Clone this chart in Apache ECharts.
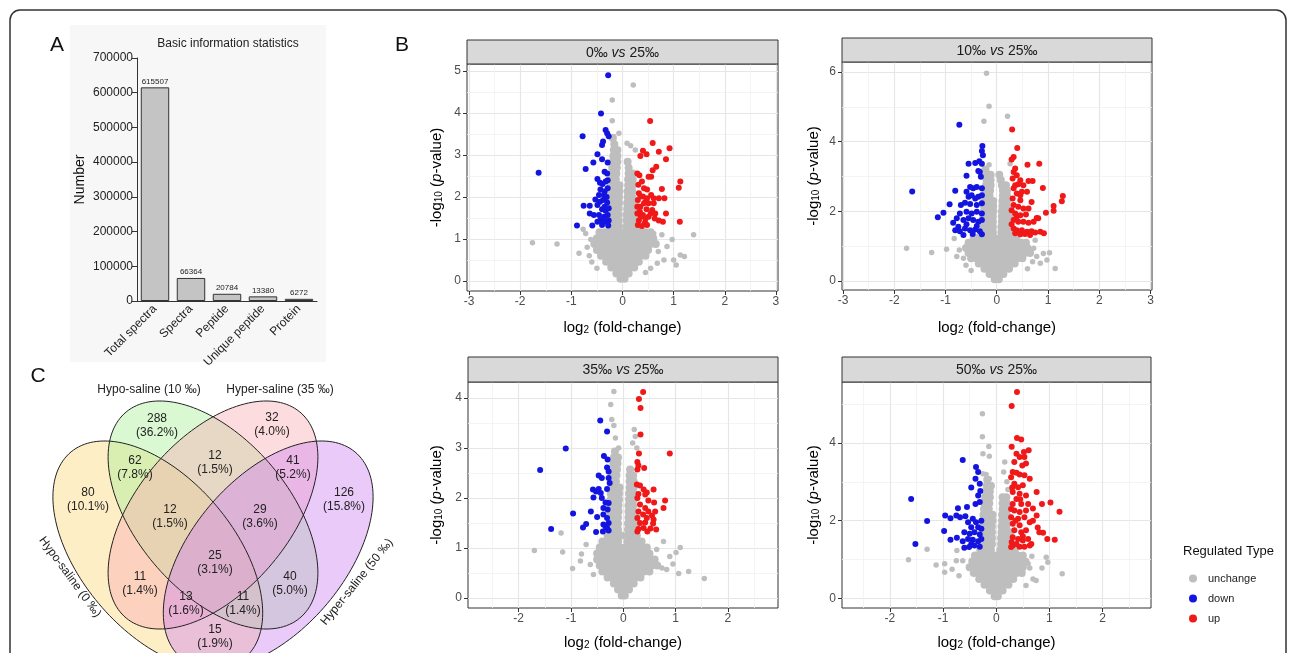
<!DOCTYPE html>
<html><head><meta charset="utf-8">
<script src="https://cdn.jsdelivr.net/npm/echarts@6/dist/echarts.min.js"></script>
<style>html,body{margin:0;background:#fff}#c{width:1290px;height:653px}</style>
</head><body><div id="c"></div>
<script>
// ---------- DATA ----------
const barCategories = ['Total spectra','Spectra','Peptide','Unique peptide','Protein'];
const barValues = [615507, 66364, 20784, 13380, 6272];
const barTicks = [0,100000,200000,300000,400000,500000,600000,700000];

const panelTitles = [['0‰','25‰'],['10‰','25‰'],['35‰','25‰'],['50‰','25‰']];
const legendNames = ['unchange','down','up'];

const xTicks = [[-3,-2,-1,0,1,2,3],[-3,-2,-1,0,1,2,3],[-2,-1,0,1,2],[-2,-1,0,1,2]];
const xMinorTicks = [[-2.5,-1.5,-0.5,0.5,1.5,2.5],[-2.5,-1.5,-0.5,0.5,1.5,2.5],[-2.5,-1.5,-0.5,0.5,1.5,2.5],[-2.5,-1.5,-0.5,0.5,1.5,2.5]];
const yTicks = [[0,1,2,3,4,5],[0,2,4,6],[0,1,2,3,4],[0,2,4]];
const yMinorTicks = [[0.5,1.5,2.5,3.5,4.5],[1,3,5],[0.5,1.5,2.5,3.5],[1,3,5]];

// panel 1: 0‰ vs 25‰
const down1 = [[-0.28,4.9],[-0.42,3.99],[-0.78,3.45],[-0.33,3.6],[-0.30,3.52],[-0.27,3.45],[-0.38,3.32],[-0.40,3.24],[-0.49,3.02],[-0.57,2.82],[-0.72,2.67],[-0.40,2.9],[-0.29,2.82],[-1.64,2.58],[-0.35,2.6],[-0.30,2.56],[-0.49,2.43],[-0.44,2.34],[-0.39,2.31],[-0.33,2.37],[-0.29,2.4],[-0.43,2.18],[-0.35,2.13],[-0.29,2.21],[-0.46,2.05],[-0.31,2.0],[-0.38,1.93],[-0.30,1.87],[-0.49,1.81],[-0.76,1.79],[-0.64,1.79],[-0.40,1.71],[-0.33,1.67],[-0.64,1.61],[-0.56,1.57],[-0.46,1.57],[-0.36,1.53],[-0.29,1.57],[-0.43,1.45],[-0.49,1.41],[-0.34,1.41],[-0.27,1.44],[-0.59,1.32],[-0.89,1.32],[-0.40,1.33],[-0.28,1.32],[-0.35,1.77],[-0.44,1.89],[-0.53,1.94],[-0.27,1.73],[-0.36,2.05]];
const up1 = [[0.54,3.81],[0.59,3.29],[0.40,3.10],[0.47,3.02],[0.35,2.98],[0.71,3.08],[0.92,3.16],[0.66,2.72],[0.59,2.64],[0.85,2.90],[0.29,2.56],[0.33,2.52],[0.51,2.48],[0.56,2.48],[0.38,2.37],[1.13,2.37],[1.10,2.22],[0.31,2.29],[0.42,2.21],[0.48,2.18],[0.77,2.19],[0.32,2.09],[0.40,2.01],[0.56,2.05],[0.71,1.97],[0.82,1.97],[0.30,1.93],[0.45,1.89],[0.51,1.85],[0.61,1.85],[0.35,1.77],[0.47,1.71],[0.58,1.69],[0.64,1.61],[0.85,1.61],[0.29,1.61],[0.40,1.57],[0.51,1.53],[0.63,1.49],[0.32,1.44],[0.44,1.39],[0.71,1.44],[0.79,1.41],[1.12,1.41],[0.30,1.33],[0.48,1.33],[0.38,1.31],[0.35,2.01],[0.48,1.97],[0.42,1.85],[0.34,1.65],[0.55,1.61],[0.45,1.49],[0.36,1.53],[0.61,1.97],[0.29,1.77]];
const grey1 = [[0.21,4.67],[-0.20,4.31],[-0.20,3.82],[-0.07,3.52],[-0.17,3.44],[0.09,3.28],[0.25,3.12],[0.16,3.22],[-1.76,0.91],[-1.28,0.88],[1.39,1.10],[0.97,0.99],[1.13,0.62],[1.21,0.58],[1.05,0.38],[1.0,0.5],[-0.85,0.66],[-0.69,0.80],[-0.62,0.99],[-0.72,1.13],[-0.77,1.23],[0.61,1.13],[0.77,1.10],[0.87,0.82],[0.68,0.42],[0.81,0.5],[0.64,0.86],[-0.6,0.45],[-0.5,0.3],[0.55,0.3],[0.45,0.2],[0.7,0.7],[-0.65,0.6]];
// dense grey cloud rows: [y, x1, x2, ...]
const core1 = [[0.05,-0.04,0.04],[0.18,-0.12,-0.04,0.04,0.12],[0.32,-0.22,-0.13,-0.04,0.05,0.14,0.23],[0.46,-0.32,-0.23,-0.14,-0.05,0.05,0.14,0.23,0.32],[0.6,-0.42,-0.32,-0.22,-0.12,-0.03,0.06,0.15,0.25,0.35,0.45],[0.74,-0.5,-0.4,-0.3,-0.2,-0.1,0,0.1,0.2,0.3,0.4,0.5],[0.88,-0.55,-0.45,-0.35,-0.25,-0.15,-0.05,0.05,0.15,0.25,0.35,0.45,0.55,0.65],[1.02,-0.5,-0.4,-0.3,-0.2,-0.1,0,0.1,0.2,0.3,0.4,0.5,0.6],[1.16,-0.45,-0.35,-0.25,-0.15,-0.05,0.05,0.15,0.25,0.35,0.45,0.55],[1.3,-0.25,-0.16,-0.07,0.08,0.17,0.25,0.35],[1.44,-0.26,-0.17,-0.08,0.08,0.17,0.25],[1.58,-0.26,-0.17,-0.08,0.08,0.17,0.25],[1.72,-0.26,-0.17,-0.08,0.09,0.18,0.25],[1.86,-0.25,-0.16,-0.07,0.09,0.18,0.25],[2.0,-0.25,-0.16,-0.07,0.1,0.19],[2.14,-0.24,-0.15,-0.06,0.1,0.19],[2.28,-0.23,-0.14,-0.06,0.11,0.2],[2.42,-0.22,-0.13,0.11,0.2],[2.56,-0.21,-0.12,0.12,0.2],[2.7,-0.2,-0.11,0.12],[2.84,-0.19,-0.1,0.1],[2.98,-0.18,-0.1],[3.12,-0.17,-0.1],[3.26,-0.16],[3.4,-0.19]];

// panel 2: 10‰ vs 25‰
const down2 = [[-0.73,4.49],[-0.28,3.88],[-0.29,3.73],[-0.27,3.61],[-0.55,3.37],[-0.42,3.39],[-0.34,3.44],[-0.29,3.37],[-0.36,3.16],[-0.33,3.13],[-0.59,3.02],[-0.31,2.99],[-1.65,2.57],[-0.81,2.59],[-0.52,2.70],[-0.46,2.66],[-0.39,2.70],[-0.29,2.66],[-0.92,2.20],[-1.04,1.96],[-1.15,1.83],[-0.85,1.67],[-0.59,2.56],[-0.55,2.42],[-0.49,2.46],[-0.42,2.37],[-0.36,2.42],[-0.29,2.46],[-0.70,2.18],[-0.62,2.25],[-0.52,2.21],[-0.39,2.18],[-0.29,2.23],[-0.72,1.94],[-0.59,1.99],[-0.49,1.94],[-0.39,1.99],[-0.29,1.94],[-0.78,1.80],[-0.65,1.75],[-0.55,1.80],[-0.46,1.75],[-0.36,1.70],[-0.29,1.75],[-0.81,1.46],[-0.72,1.43],[-0.62,1.51],[-0.52,1.46],[-0.42,1.48],[-0.33,1.43],[-0.65,1.32],[-0.47,1.35],[-0.29,1.34],[-0.59,1.63],[-0.39,1.58],[-0.75,1.56]];
const up2 = [[0.30,4.35],[0.40,3.82],[0.33,3.56],[0.29,3.49],[0.36,3.23],[0.33,3.13],[0.60,3.34],[0.83,3.37],[0.39,3.04],[0.31,2.94],[0.46,2.89],[0.62,2.87],[0.70,2.87],[0.42,2.78],[0.52,2.75],[0.90,2.67],[0.33,2.66],[0.39,2.51],[0.49,2.56],[0.59,2.56],[0.31,2.37],[0.46,2.32],[0.68,2.27],[1.29,2.44],[1.27,2.29],[1.11,2.15],[1.11,2.02],[0.96,1.96],[0.33,2.18],[0.42,2.13],[0.52,2.08],[0.62,2.08],[0.36,1.94],[0.46,1.89],[0.57,1.91],[0.78,1.81],[0.81,1.80],[0.33,1.75],[0.42,1.70],[0.52,1.70],[0.62,1.67],[0.72,1.70],[0.33,1.51],[0.39,1.46],[0.49,1.46],[0.59,1.41],[0.68,1.43],[0.75,1.39],[0.92,1.37],[0.36,1.37],[0.46,1.34],[0.55,1.35],[0.65,1.32],[0.85,1.41],[0.29,1.63],[0.39,1.84],[0.29,2.03],[0.46,2.46],[0.36,2.75]];
const grey2 = [[-0.20,5.97],[-0.15,5.02],[-0.25,4.59],[0.21,4.73],[-0.15,3.34],[0.26,3.37],[-0.25,3.18],[-1.76,0.94],[-1.27,0.82],[-0.98,0.91],[-0.83,1.22],[-0.78,0.70],[-0.65,0.65],[-0.73,0.89],[1.03,0.81],[1.14,0.36],[0.98,0.60],[0.85,0.51],[0.78,0.70],[0.91,0.79],[0.72,0.94],[0.75,1.17],[-0.6,0.45],[0.6,0.35],[-0.5,0.3],[0.7,0.55]];
const core2 = [[0.05,-0.04,0.04],[0.2,-0.14,-0.05,0.04,0.13],[0.35,-0.24,-0.15,-0.05,0.05,0.15,0.24],[0.5,-0.35,-0.25,-0.15,-0.05,0.05,0.15,0.25,0.35],[0.65,-0.5,-0.4,-0.3,-0.2,-0.1,0,0.1,0.2,0.3,0.4,0.5],[0.8,-0.55,-0.45,-0.35,-0.25,-0.15,-0.05,0.05,0.15,0.25,0.35,0.45,0.55,0.65],[0.95,-0.6,-0.5,-0.4,-0.3,-0.2,-0.1,0,0.1,0.2,0.3,0.4,0.5,0.6],[1.1,-0.55,-0.45,-0.35,-0.25,-0.15,-0.05,0.07,0.17,0.27,0.37,0.47,0.57],[1.25,-0.45,-0.35,-0.25,-0.15,-0.06,0.08,0.18,0.28,0.38],[1.4,-0.26,-0.17,-0.08,0.09,0.18,0.26],[1.55,-0.26,-0.17,-0.08,0.09,0.18,0.26],[1.7,-0.26,-0.17,-0.08,0.1,0.19,0.26],[1.85,-0.26,-0.17,-0.08,0.1,0.19,0.26],[2.0,-0.25,-0.16,-0.07,0.1,0.19],[2.15,-0.25,-0.16,-0.07,0.11,0.2],[2.3,-0.24,-0.15,-0.07,0.11,0.2],[2.45,-0.23,-0.14,0.12,0.2],[2.6,-0.22,-0.13,0.12,0.2],[2.75,-0.21,-0.12,0.1,0.18],[2.9,-0.2,-0.12,0.08],[3.05,-0.2,-0.12,0.05],[3.2,-0.22]];

// panel 3: 35‰ vs 25‰
const down3 = [[-0.44,3.55],[-0.31,3.33],[-1.10,2.99],[-0.37,2.84],[-0.30,2.77],[-0.31,2.61],[-0.28,2.53],[-1.59,2.56],[-0.47,2.45],[-0.41,2.40],[-0.28,2.40],[-0.26,2.30],[-0.58,2.17],[-0.52,2.13],[-0.47,2.18],[-0.43,2.10],[-0.31,2.18],[-0.57,2.01],[-0.41,2.00],[-0.34,1.91],[-0.28,1.90],[-0.38,1.80],[-0.30,1.77],[-0.96,1.69],[-0.62,1.73],[-0.50,1.62],[-0.38,1.67],[-0.31,1.60],[-0.28,1.50],[-0.71,1.48],[-0.77,1.41],[-1.38,1.38],[-0.38,1.47],[-0.31,1.40],[-0.52,1.32],[-0.39,1.33],[-0.28,1.35],[-0.34,1.43]];
const up3 = [[0.38,4.12],[0.30,3.98],[0.33,3.80],[0.33,3.27],[0.30,2.89],[0.89,2.89],[0.27,2.72],[0.29,2.65],[0.40,2.60],[0.27,2.57],[0.26,2.27],[0.32,2.25],[0.39,2.17],[0.45,2.11],[0.58,2.17],[0.29,2.08],[0.42,2.07],[0.27,2.00],[0.48,1.95],[0.80,1.95],[0.59,1.91],[0.32,1.87],[0.42,1.80],[0.77,1.80],[0.29,1.73],[0.48,1.73],[0.61,1.73],[0.38,1.67],[0.55,1.65],[0.27,1.60],[0.45,1.60],[0.58,1.57],[0.32,1.50],[0.42,1.51],[0.57,1.49],[0.29,1.38],[0.39,1.40],[0.52,1.39],[0.63,1.37],[0.27,1.33],[0.46,1.33]];
const grey3 = [[-0.18,4.13],[-0.24,3.87],[-0.22,3.57],[-0.18,3.45],[0.21,3.37],[0.23,3.23],[0.26,3.0],[-0.09,3.0],[-1.70,0.95],[-1.19,1.30],[-1.16,0.92],[-0.97,0.59],[-0.82,0.74],[-0.80,0.88],[-0.71,1.07],[-0.63,0.67],[-0.57,0.47],[1.55,0.39],[1.25,0.53],[1.06,0.49],[1.09,1.01],[1.01,0.91],[0.89,0.83],[0.83,0.57],[0.95,0.68],[0.74,0.60],[0.64,0.97],[0.77,1.13],[0.58,0.77],[-0.15,3.2],[0.18,3.1]];
const core3 = [[0.05,-0.03,0.03],[0.17,-0.1,-0.03,0.04,0.11],[0.29,-0.18,-0.1,-0.02,0.06,0.14,0.2],[0.41,-0.3,-0.21,-0.12,-0.03,0.06,0.15,0.24,0.33],[0.53,-0.4,-0.3,-0.2,-0.1,0,0.1,0.2,0.3,0.4,0.5],[0.65,-0.45,-0.35,-0.25,-0.15,-0.05,0.05,0.15,0.25,0.35,0.45,0.55,0.65],[0.77,-0.5,-0.4,-0.3,-0.2,-0.1,0,0.1,0.2,0.3,0.4,0.5,0.6],[0.89,-0.5,-0.4,-0.3,-0.2,-0.1,0,0.1,0.2,0.3,0.4,0.5],[1.01,-0.45,-0.35,-0.25,-0.15,-0.05,0.05,0.15,0.25,0.35,0.45],[1.13,-0.4,-0.3,-0.2,-0.1,0.08,0.17,0.26,0.35],[1.25,-0.3,-0.21,-0.12,-0.04,0.08,0.17,0.26],[1.37,-0.26,-0.18,-0.1,0.09,0.18,0.25],[1.49,-0.26,-0.18,-0.1,0.09,0.18,0.25],[1.61,-0.26,-0.18,-0.1,0.1,0.19,0.25],[1.73,-0.25,-0.17,-0.09,0.1,0.19],[1.85,-0.25,-0.17,-0.09,0.1,0.19],[1.97,-0.24,-0.16,-0.08,0.11,0.2],[2.09,-0.24,-0.16,-0.08,0.11,0.2],[2.21,-0.23,-0.15,-0.07,0.12,0.2],[2.33,-0.22,-0.14,0.12,0.2],[2.45,-0.21,-0.13,0.12,0.19],[2.57,-0.2,-0.12,0.13],[2.69,-0.19,-0.11],[2.81,-0.18,-0.1],[2.93,-0.16]];

// panel 4: 50‰ vs 25‰
const down4 = [[-1.60,2.56],[-1.30,1.99],[-1.52,1.40],[-0.63,3.56],[-0.38,3.38],[-0.34,3.25],[-0.39,3.08],[-0.47,2.85],[-0.31,2.95],[-0.30,2.76],[-0.34,2.65],[-0.72,2.32],[-0.55,2.35],[-0.39,2.43],[-0.31,2.48],[-0.96,2.13],[-0.86,2.06],[-0.68,2.09],[-0.58,2.11],[-0.75,2.13],[-0.53,1.96],[-0.44,2.05],[-0.38,1.96],[-0.28,2.00],[-0.47,1.83],[-0.34,1.83],[-0.28,1.79],[-0.98,1.73],[-0.60,1.70],[-0.50,1.66],[-0.41,1.70],[-0.31,1.64],[-0.86,1.51],[-0.74,1.56],[-0.63,1.47],[-0.53,1.53],[-0.44,1.51],[-0.34,1.47],[-0.28,1.53],[-0.60,1.30],[-0.51,1.32],[-0.41,1.36],[-0.31,1.33],[-0.47,1.40]];
const up4 = [[0.39,5.31],[0.29,4.95],[0.39,4.13],[0.47,4.09],[0.29,3.90],[0.38,3.72],[0.52,3.77],[0.61,3.81],[0.44,3.64],[0.53,3.64],[0.34,3.51],[0.49,3.42],[0.56,3.47],[0.31,3.25],[0.38,3.23],[0.44,3.19],[0.53,3.17],[0.63,3.08],[0.28,3.12],[0.34,2.95],[0.41,2.86],[0.50,2.91],[0.31,2.74],[0.44,2.69],[0.56,2.65],[0.76,2.74],[0.38,2.56],[0.86,2.43],[1.02,2.47],[1.19,2.23],[0.31,2.43],[0.47,2.43],[0.60,2.43],[0.34,2.26],[0.44,2.22],[0.56,2.26],[0.69,2.31],[0.28,2.09],[0.41,2.05],[0.53,2.09],[0.76,2.13],[0.31,1.92],[0.44,1.88],[0.63,1.96],[0.69,2.00],[0.78,1.82],[0.81,1.70],[0.88,1.69],[0.34,1.75],[0.47,1.70],[0.56,1.75],[0.96,1.53],[1.10,1.51],[0.31,1.57],[0.41,1.53],[0.50,1.49],[0.60,1.53],[0.66,1.40],[0.31,1.36],[0.44,1.33],[0.63,1.36],[0.38,1.40],[0.28,1.32],[0.53,1.33],[0.28,2.3],[0.36,2.0],[0.5,1.6],[0.29,1.45],[0.45,2.55],[0.3,2.85]];
const grey4 = [[-0.26,4.75],[-0.26,4.16],[-0.14,3.91],[-0.13,3.66],[-0.25,3.72],[0.16,3.51],[0.14,3.25],[-0.19,3.19],[-0.13,3.08],[-0.25,3.21],[-1.65,0.99],[-1.30,1.26],[-1.13,0.86],[-0.97,0.67],[-0.97,0.89],[-0.83,0.75],[-0.75,0.97],[-0.74,1.23],[-0.63,0.97],[-0.70,0.58],[1.24,0.63],[0.94,1.06],[0.97,0.93],[0.86,0.78],[0.67,1.08],[0.56,0.33],[0.69,0.50],[0.75,0.46],[0.63,0.78],[0.60,0.89],[0.2,3.0],[0.22,2.8]];
const core4 = [[0.05,-0.03,0.03],[0.2,-0.12,-0.04,0.04,0.12],[0.35,-0.22,-0.13,-0.04,0.05,0.14,0.23],[0.5,-0.32,-0.23,-0.14,-0.05,0.05,0.14,0.23,0.32],[0.65,-0.42,-0.32,-0.22,-0.12,-0.02,0.08,0.18,0.28,0.38,0.48],[0.8,-0.5,-0.4,-0.3,-0.2,-0.1,0,0.1,0.2,0.3,0.4,0.5],[0.95,-0.45,-0.35,-0.25,-0.15,-0.05,0.05,0.15,0.25,0.35,0.45,0.55],[1.1,-0.4,-0.3,-0.2,-0.1,0,0.1,0.2,0.3,0.4,0.5],[1.25,-0.3,-0.2,-0.1,0.08,0.17,0.26,0.35],[1.4,-0.26,-0.17,-0.08,0.09,0.18,0.26],[1.55,-0.26,-0.17,-0.08,0.09,0.18,0.26],[1.7,-0.26,-0.17,-0.08,0.1,0.19,0.26],[1.85,-0.25,-0.16,-0.08,0.1,0.19],[2.0,-0.25,-0.16,-0.07,0.11,0.2],[2.15,-0.24,-0.15,-0.07,0.11,0.2],[2.3,-0.23,-0.14,0.12,0.2],[2.45,-0.22,-0.13,0.12,0.2],[2.6,-0.21,-0.12,0.12,0.19],[2.75,-0.2,-0.12],[2.9,-0.18,-0.1],[3.05,-0.17]];

// Venn
const vennSetNames = ['Hypo-saline (0 ‰)','Hypo-saline (10 ‰)','Hyper-saline (35 ‰)','Hyper-saline (50 ‰)'];
const vennCounts = [288,32,62,12,41,80,126,12,29,25,11,40,13,11,15];
const vennPercents = ['36.2','4.0','7.8','1.5','5.2','10.1','15.8','1.5','3.6','3.1','1.4','5.0','1.6','1.4','1.9'];

// ---------- LAYOUT / STYLE ----------
const FONT = 'Liberation Sans, Arial, Helvetica, sans-serif';
const volcLayout = [
  {left:467, top:64, width:311, height:227, xmin:-3.04, xmax:3.04, ymin:-0.24, ymax:5.17, yGap:23, xGap:29, strip:[467,40,311,24]},
  {left:842, top:62, width:310, height:228, xmin:-3.02, xmax:3.03, ymin:-0.26, ymax:6.29, yGap:21, xGap:30, strip:[842,38,310,24]},
  {left:468, top:382, width:310, height:226, xmin:-2.97, xmax:2.96, ymin:-0.2, ymax:4.32, yGap:24, xGap:27, strip:[468,357,310,25]},
  {left:842, top:382, width:309, height:226, xmin:-2.9, xmax:2.91, ymin:-0.25, ymax:5.57, yGap:21, xGap:27, strip:[842,357,309,25]}
];
const panelData = [[core1,grey1,down1,up1],[core2,grey2,down2,up2],[core3,grey3,down3,up3],[core4,grey4,down4,up4]];
const COL = {unchange:'#bebebe', down:'#1414e0', up:'#f01818'};

function expandRows(rows){ const out=[]; rows.forEach(r=>{ for(let k=1;k<r.length;k++) out.push([r[k], r[0]]); }); return out; }

const grids = [{left:137, top:58, width:180, height:243}];
const xAxes = [{
  type:'category', gridIndex:0, data:barCategories,
  axisLine:{lineStyle:{color:'#333', width:1}}, axisTick:{show:false},
  axisLabel:{rotate:45, interval:0, fontSize:12, color:'#222', margin:6, fontFamily:FONT}
}];
const yAxes = [{
  type:'value', gridIndex:0, min:barTicks[0], max:barTicks[barTicks.length-1], interval:barTicks[1]-barTicks[0],
  axisLine:{show:true, lineStyle:{color:'#333', width:1}},
  axisTick:{show:true, length:5, lineStyle:{color:'#333'}},
  axisLabel:{fontSize:12, color:'#222', margin:4, fontFamily:FONT, formatter:v => String(v)},
  splitLine:{show:false},
  name:'Number', nameLocation:'middle', nameGap:50,
  nameTextStyle:{fontSize:14, color:'#111', fontFamily:FONT}
}];
const series = [{
  type:'bar', xAxisIndex:0, yAxisIndex:0, data:barValues, barWidth:'79%',
  itemStyle:{color:'#c4c4c4', borderColor:'#333', borderWidth:1},
  label:{show:true, position:'top', distance:2, fontSize:8, color:'#222', fontFamily:FONT}
}];

const nameRich = {
  a:{fontSize:15, color:'#000', fontFamily:FONT},
  s:{fontSize:10, color:'#000', fontFamily:FONT, verticalAlign:'bottom', lineHeight:6},
  i:{fontSize:15, color:'#000', fontFamily:FONT, fontStyle:'italic'}
};
const xName = '{a|log}{s|2}{a| (fold-change)}';
const yName = '{a|-log}{s|10}{a| (}{i|p}{a|-value)}';

volcLayout.forEach((L, i) => {
  const g = i + 1;
  grids.push({left:L.left, top:L.top, width:L.width, height:L.height, show:true, borderColor:'#333', borderWidth:1, backgroundColor:'#fff'});
  const xMainIdx = xAxes.length, yMainIdx = yAxes.length;
  xAxes.push({
    type:'value', gridIndex:g, min:L.xmin, max:L.xmax, position:'bottom',
    axisLine:{show:false, onZero:false},
    axisTick:{show:true, customValues:xTicks[i], length:4, lineStyle:{color:'#333'}},
    axisLabel:{customValues:xTicks[i], fontSize:12, color:'#4d4d4d', margin:5, fontFamily:FONT},
    splitLine:{show:true, lineStyle:{color:'#e6e6e6', width:1.2}},
    name:xName, nameLocation:'middle', nameGap:L.xGap, nameTextStyle:{rich:nameRich}
  });
  xAxes.push({
    type:'value', gridIndex:g, min:L.xmin, max:L.xmax, position:'bottom',
    axisLine:{show:false, onZero:false}, axisTick:{show:false, customValues:xMinorTicks[i]},
    axisLabel:{show:false}, splitLine:{show:true, lineStyle:{color:'#f1f1f1', width:0.8}}
  });
  yAxes.push({
    type:'value', gridIndex:g, min:L.ymin, max:L.ymax, position:'left',
    axisLine:{show:false, onZero:false},
    axisTick:{show:true, customValues:yTicks[i], length:4, lineStyle:{color:'#333'}},
    axisLabel:{customValues:yTicks[i], fontSize:12, color:'#4d4d4d', margin:6, fontFamily:FONT},
    splitLine:{show:true, lineStyle:{color:'#e6e6e6', width:1.2}},
    name:yName, nameLocation:'middle', nameGap:L.yGap, nameTextStyle:{rich:nameRich}
  });
  yAxes.push({
    type:'value', gridIndex:g, min:L.ymin, max:L.ymax, position:'left',
    axisLine:{show:false, onZero:false}, axisTick:{show:false, customValues:yMinorTicks[i]},
    axisLabel:{show:false}, splitLine:{show:true, lineStyle:{color:'#f1f1f1', width:0.8}}
  });
  const [core, grey, down, up] = panelData[i];
  const base = {type:'scatter', xAxisIndex:xMainIdx, yAxisIndex:yMainIdx, silent:true};
  series.push(Object.assign({}, base, {name:'unchange', data:expandRows(core), symbolSize:8, itemStyle:{color:COL.unchange, opacity:1}}));
  series.push(Object.assign({}, base, {name:'unchange', data:grey, symbolSize:5.5, itemStyle:{color:COL.unchange, opacity:1}}));
  series.push(Object.assign({}, base, {name:'down', data:down, symbolSize:6, itemStyle:{color:COL.down, opacity:1}}));
  series.push(Object.assign({}, base, {name:'up', data:up, symbolSize:6, itemStyle:{color:COL.up, opacity:1}}));
});

// ---------- GRAPHIC ----------
const gfx = [];
gfx.push({type:'rect', z:-5, shape:{x:70, y:25, width:256, height:337}, style:{fill:'#f7f7f7'}, silent:true});
gfx.push({type:'rect', shape:{x:10, y:10, width:1276, height:720, r:10}, style:{fill:'none', stroke:'#333', lineWidth:1.5}, silent:true});
[['A',57,45],['B',402,45],['C',38,376]].forEach(t => gfx.push({type:'text', x:t[1], y:t[2], style:{text:t[0], font:'21px '+FONT, fill:'#111', align:'center', verticalAlign:'middle'}}));
gfx.push({type:'text', x:228, y:44, style:{text:'Basic information statistics', font:'12px '+FONT, fill:'#222', align:'center', verticalAlign:'middle'}});

volcLayout.forEach((L, i) => {
  const s = L.strip;
  gfx.push({type:'rect', z:5, shape:{x:s[0], y:s[1], width:s[2], height:s[3]}, style:{fill:'#d9d9d9', stroke:'#333', lineWidth:1}});
  gfx.push({type:'text', z:6, x:s[0]+s[2]/2, y:s[1]+s[3]/2+1, style:{
    text:'{n|'+panelTitles[i][0]+' }{i|vs}{n| '+panelTitles[i][1]+'}',
    rich:{n:{fontSize:14, fontFamily:FONT, fill:'#1a1a1a'}, i:{fontSize:14, fontFamily:FONT, fontStyle:'italic', fill:'#1a1a1a'}},
    align:'center', verticalAlign:'middle'}});
});
gfx.push({type:'text', x:1183, y:551, style:{text:'Regulated Type', font:'13px '+FONT, fill:'#111', align:'left', verticalAlign:'middle'}});

// Venn ellipses (unit layout like VennDiagram quad)
const VX0 = 213, VY0 = 515, VSX = 368, VSY = 400;
const vennEllipses = [
  {cx:0.35, cy:0.47, th:-Math.PI/4, fill:'rgba(250,214,118,0.42)'},
  {cx:0.5,  cy:0.57, th:-Math.PI/4, fill:'rgba(168,240,150,0.42)'},
  {cx:0.5,  cy:0.57, th: Math.PI/4, fill:'rgba(250,172,178,0.42)'},
  {cx:0.65, cy:0.47, th: Math.PI/4, fill:'rgba(205,128,240,0.42)'}
];
function ellipsePts(e){
  const a = 0.35, b = 0.2, pts = [];
  for (let k = 0; k < 160; k++){
    const t = k/160*2*Math.PI;
    const u = e.cx + a*Math.cos(t)*Math.cos(e.th) - b*Math.sin(t)*Math.sin(e.th);
    const v = e.cy + a*Math.cos(t)*Math.sin(e.th) + b*Math.sin(t)*Math.cos(e.th);
    pts.push([VX0 + VSX*(u-0.5), VY0 - VSY*(v-0.57)]);
  }
  return pts;
}
vennEllipses.forEach(e => gfx.push({type:'polygon', z:1, shape:{points:ellipsePts(e)}, style:{fill:e.fill, stroke:'none'}}));
vennEllipses.forEach(e => gfx.push({type:'polygon', z:2, shape:{points:ellipsePts(e)}, style:{fill:'none', stroke:'#222', lineWidth:1}}));
const vennLabelPos = [[157,426],[272,425],[135,468],[215,463],[293,468],[88,500],[344,500],[170,517],[260,517],[215,563],[140,584],[290,584],[186,604],[243,604],[215,637]];
vennCounts.forEach((c, k) => gfx.push({type:'text', z:3, x:vennLabelPos[k][0], y:vennLabelPos[k][1], style:{
  text: c + '\n(' + vennPercents[k] + '%)', font:'12px '+FONT, fill:'#222', align:'center', verticalAlign:'middle', lineHeight:14}}));
const vennSetPos = [[70,577,-0.94],[149,390,0],[280,390,0],[357,582,0.89]];
vennSetNames.forEach((n, k) => gfx.push({type:'text', z:3, x:vennSetPos[k][0], y:vennSetPos[k][1], rotation:vennSetPos[k][2], style:{
  text:n, font:'12px '+FONT, fill:'#222', align:'center', verticalAlign:'middle'}}));

const option = {
  animation:false,
  backgroundColor:'#fff',
  textStyle:{fontFamily:FONT},
  grid:grids, xAxis:xAxes, yAxis:yAxes, series:series,
  legend:{data:legendNames, orient:'vertical', left:1184, top:568, itemWidth:20, itemHeight:8, itemGap:9, icon:'circle', selectedMode:false,
          textStyle:{fontSize:11, color:'#222', fontFamily:FONT}},
  graphic:{elements:gfx}
};
const chart = echarts.init(document.getElementById('c'), null, {renderer:'canvas'});
chart.setOption(option);
</script></body></html>
